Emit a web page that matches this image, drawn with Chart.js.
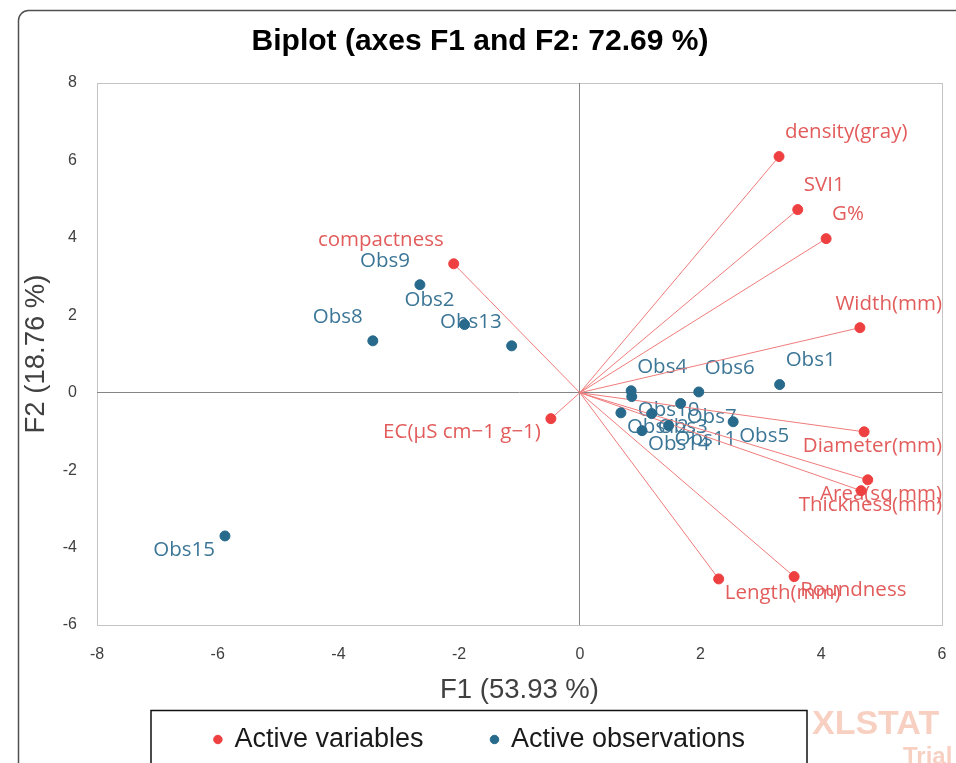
<!DOCTYPE html>
<html><head><meta charset="utf-8">
<script src="https://cdn.jsdelivr.net/npm/chart.js@4"></script>
<style>html,body{margin:0;padding:0;background:#fff}</style>
</head><body>
<canvas id="c" width="956" height="763"></canvas>
<script>
// ---- data ----
const variableNames = ['density(gray)', 'SVI1', 'G%', 'Width(mm)', 'Diameter(mm)', 'Area(sq mm)', 'Thickness(mm)', 'Roundness', 'Length(mm)', 'compactness', 'EC(\u00B5S cm\u22121 g\u22121)'];
const variableF1 = [3.30, 3.61, 4.08, 4.64, 4.71, 4.77, 4.66, 3.55, 2.30, -2.09, -0.48];
const variableF2 = [6.10, 4.73, 3.98, 1.68, -1.01, -2.25, -2.53, -4.75, -4.81, 3.33, -0.67];

const observationNames = ['Obs1', 'Obs2', 'Obs3', 'Obs4', 'Obs5', 'Obs6', 'Obs7', 'Obs8', 'Obs9', 'Obs10', 'Obs11', 'Obs12', 'Obs13', 'Obs14', 'Obs15'];
const observationF1 = [3.31, -1.91, 1.19, 0.85, 2.54, 1.97, 1.67, -3.43, -2.65, 0.86, 1.47, 0.68, -1.13, 1.03, -5.88];
const observationF2 = [0.21, 1.76, -0.54, 0.05, -0.75, 0.02, -0.28, 1.34, 2.79, -0.10, -0.85, -0.52, 1.21, -0.98, -3.70];

const xTicks = [-8, -6, -4, -2, 0, 2, 4, 6];
const yTicks = [-6, -4, -2, 0, 2, 4, 6, 8];

const titleText = 'Biplot (axes F1 and F2: 72.69 %)';
const xTitle = 'F1 (53.93 %)';
const yTitle = 'F2 (18.76 %)';
const seriesNames = ['Active variables', 'Active observations'];

// ---- build library structures ----
const variablePoints = variableF1.map((x, i) => ({x: x, y: variableF2[i]}));
const observationPoints = observationF1.map((x, i) => ({x: x, y: observationF2[i]}));
const vectorPoints = [];
variablePoints.forEach(p => { vectorPoints.push({x: 0, y: 0}, {x: p.x, y: p.y}, {x: null, y: null}); });

const RED = '#EE4040', RED_TXT = '#E25C5C', BLUE = '#286A8C', BLUE_TXT = '#3C7696';

const framePlugin = {
  id: 'frame',
  beforeDraw(chart) {
    const {ctx, chartArea: a} = chart;
    ctx.save();
    ctx.fillStyle = '#fff';
    ctx.fillRect(0, 0, chart.width, chart.height);
    ctx.strokeStyle = '#505050';
    ctx.lineWidth = 1.5;
    ctx.beginPath();
    ctx.roundRect(18.5, 10.5, 1000, 800, 10);
    ctx.stroke();
    ctx.strokeStyle = '#C4C4C4';
    ctx.lineWidth = 1;
    ctx.strokeRect(Math.round(a.left) + 0.5, Math.round(a.top) + 0.5, Math.round(a.right - a.left), Math.round(a.bottom - a.top));
    ctx.restore();
  },
  afterLayout(chart) {
    const lg = chart.legend;
    if (!lg) return;
    const shift = lg.options.labels.padding - 11;
    lg.top -= shift;
    lg.height += shift;
  },
  afterDraw(chart) {
    const {ctx} = chart;
    const lg = chart.legend;
    ctx.save();
    const cx = (lg.left + lg.right) / 2;
    ctx.strokeStyle = '#111';
    ctx.lineWidth = 1.5;
    ctx.strokeRect(cx - 329, 710.5, 656, 80);
    ctx.fillStyle = 'rgba(240,150,120,0.45)';
    ctx.font = 'bold 34px "Liberation Sans"';
    ctx.textBaseline = 'alphabetic';
    ctx.fillText('XLSTAT', 812, 734);
    ctx.font = 'bold 24px "Liberation Sans"';
    ctx.fillText('Trial', 903, 764);
    ctx.restore();
  }
};

const labelPlugin = {
  id: 'pointNames',
  beforeDatasetsDraw(chart) {
    const {ctx, chartArea} = chart;
    ctx.save();
    ctx.font = '20.5px "Open Sans"';
    ctx.textBaseline = 'middle';
    ctx.textAlign = 'left';
    chart.data.datasets.forEach((ds, di) => {
      if (!ds.pointNames) return;
      const meta = chart.getDatasetMeta(di);
      meta.data.forEach((el, i) => {
        const raw = ds.data[i];
        const text = ds.pointNames[i];
        const w = ctx.measureText(text).width;
        let x = raw.x >= 0 ? el.x + 6 : el.x - 10 - w;
        x = Math.min(x, chartArea.right - w);
        x = Math.max(x, chartArea.left);
        const y = raw.y >= 0 ? el.y - 24 : el.y + 14;
        ctx.fillStyle = ds.labelColor;
        ctx.fillText(text, x, y);
      });
    });
    ctx.restore();
  }
};

new Chart(document.getElementById('c'), {
  type: 'scatter',
  data: {
    datasets: [
      {label: seriesNames[0], data: variablePoints, pointNames: variableNames, labelColor: RED_TXT,
       backgroundColor: RED, borderColor: RED, pointRadius: 5, pointHoverRadius: 5, order: 0},
      {label: seriesNames[1], data: observationPoints, pointNames: observationNames, labelColor: BLUE_TXT,
       backgroundColor: BLUE, borderColor: BLUE, pointRadius: 5, pointHoverRadius: 5, order: 1},
      {label: 'vectors', type: 'line', data: vectorPoints, showLine: true, spanGaps: false,
       borderColor: '#F07C7C', borderWidth: 1, pointRadius: 0, pointHoverRadius: 0, fill: false, order: 2}
    ]
  },
  options: {
    responsive: false,
    animation: false,
    layout: {padding: {left: 18, right: 14, top: 0, bottom: 0}},
    plugins: {
      tooltip: {enabled: false},
      title: {display: true, text: titleText, color: '#000',
              font: {family: '"Liberation Sans", Arial', size: 30, weight: 'bold'},
              padding: {top: 24, bottom: 23}},
      legend: {display: true, position: 'bottom', maxHeight: 48,
               labels: {filter: item => item.text !== 'vectors', usePointStyle: true, pointStyle: 'circle',
                        boxWidth: 6, boxHeight: 6, padding: 68, color: '#1a1a1a',
                        font: {family: '"Liberation Sans", Arial', size: 27}}}
    },
    scales: {
      x: {type: 'linear', min: -8, max: 6,
          afterBuildTicks: s => { s.ticks = xTicks.map(v => ({value: v})); },
          afterFit: s => { s.height = 90; s.paddingRight = 0; s.paddingLeft = 0; },
          grid: {drawTicks: false, color: c => (c.tick && c.tick.value === 0) ? '#868686' : 'rgba(0,0,0,0)'},
          border: {display: false},
          ticks: {padding: 20, color: '#404040', font: {family: '"Liberation Sans", Arial', size: 16}},
          title: {display: true, text: xTitle, color: '#404040', padding: {top: 0, bottom: 8},
                  font: {family: '"Liberation Sans", Arial', size: 27.5}}},
      y: {type: 'linear', min: -6, max: 8,
          afterBuildTicks: s => { s.ticks = yTicks.map(v => ({value: v})); },
          afterFit: s => { s.width = 79; },
          grid: {drawTicks: false, color: c => (c.tick && c.tick.value === 0) ? '#868686' : 'rgba(0,0,0,0)'},
          border: {display: false},
          ticks: {padding: 20, color: '#404040', font: {family: '"Liberation Sans", Arial', size: 16}},
          title: {display: true, text: yTitle, color: '#404040', padding: {top: 2, bottom: 0},
                  font: {family: '"Liberation Sans", Arial', size: 27.5}}}
    }
  },
  plugins: [framePlugin, labelPlugin]
});
</script>
</body></html>
